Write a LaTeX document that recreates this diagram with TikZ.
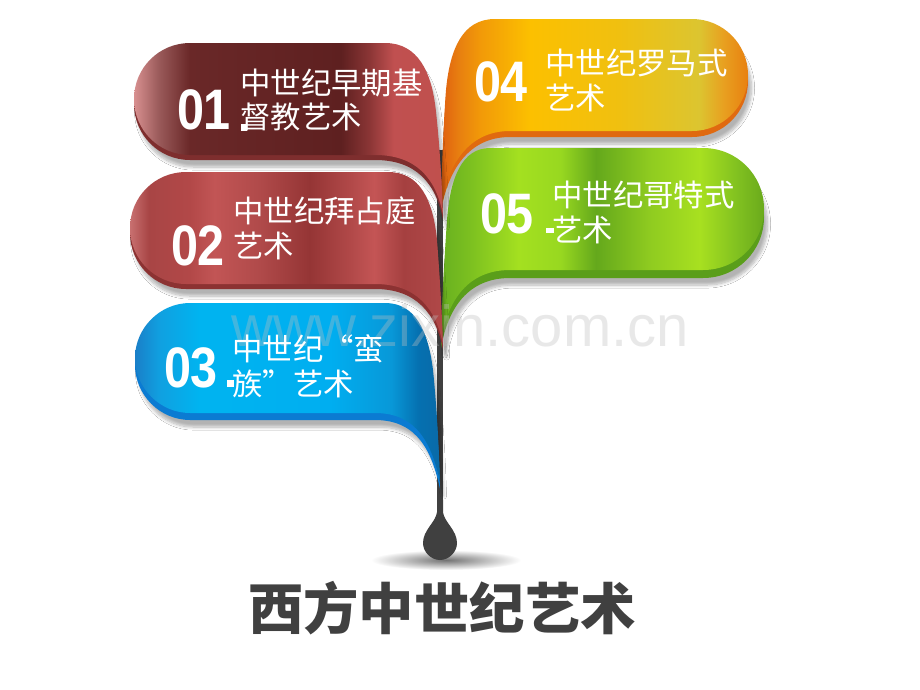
\documentclass[tikz,border=0pt]{standalone}
\usepackage{fontspec}
\usetikzlibrary{shadows.blur}
\newfontfamily\cjk{Noto Sans CJK SC}
\newfontfamily\numfont[FakeStretch=0.85]{Liberation Sans}
\newfontfamily\wmfont{Liberation Sans}
\definecolor{stemc}{HTML}{404040}
\definecolor{lipA}{HTML}{7E2E2E}
\definecolor{lipB}{HTML}{8C3232}
\definecolor{lipC}{HTML}{0B7BD2}
\definecolor{lipD}{HTML}{E06A10}
\definecolor{lipE}{HTML}{5A9E1A}
\pgfdeclarehorizontalshading{shA}{100bp}{color(0bp)=(rgb,255:red,216;green,144;blue,144); color(25bp)=(rgb,255:red,216;green,144;blue,144); color(29bp)=(rgb,255:red,154;green,90;blue,90); color(34bp)=(rgb,255:red,106;green,40;blue,40); color(58.5bp)=(rgb,255:red,94;green,32;blue,32); color(63bp)=(rgb,255:red,138;green,53;blue,53); color(67bp)=(rgb,255:red,192;green,80;blue,80); color(75bp)=(rgb,255:red,192;green,80;blue,77); color(100bp)=(rgb,255:red,192;green,80;blue,77)}
\pgfdeclarehorizontalshading{shB}{100bp}{color(0bp)=(rgb,255:red,200;green,112;blue,112); color(25bp)=(rgb,255:red,200;green,112;blue,112); color(28bp)=(rgb,255:red,168;green,69;blue,69); color(34.5bp)=(rgb,255:red,178;green,72;blue,72); color(38.5bp)=(rgb,255:red,194;green,85;blue,85); color(45.7bp)=(rgb,255:red,176;green,74;blue,74); color(53.7bp)=(rgb,255:red,149;green,53;blue,53); color(60bp)=(rgb,255:red,176;green,72;blue,72); color(64bp)=(rgb,255:red,196;green,85;blue,85); color(68.7bp)=(rgb,255:red,165;green,64;blue,64); color(75bp)=(rgb,255:red,176;green,72;blue,72); color(100bp)=(rgb,255:red,176;green,72;blue,72)}
\pgfdeclarehorizontalshading{shC}{100bp}{color(0bp)=(rgb,255:red,26;green,127;blue,200); color(25bp)=(rgb,255:red,26;green,127;blue,200); color(29bp)=(rgb,255:red,16;green,160;blue,224); color(35.5bp)=(rgb,255:red,0;green,180;blue,240); color(57bp)=(rgb,255:red,0;green,174;blue,240); color(67bp)=(rgb,255:red,8;green,152;blue,216); color(71.5bp)=(rgb,255:red,5;green,112;blue,176); color(75bp)=(rgb,255:red,10;green,106;blue,168); color(100bp)=(rgb,255:red,10;green,106;blue,168)}
\pgfdeclarehorizontalshading{shD}{100bp}{color(0bp)=(rgb,255:red,224;green,96;blue,16); color(25bp)=(rgb,255:red,224;green,96;blue,16); color(28bp)=(rgb,255:red,232;green,128;blue,16); color(31.5bp)=(rgb,255:red,242;green,154;blue,8); color(39.5bp)=(rgb,255:red,252;green,192;blue,0); color(54bp)=(rgb,255:red,240;green,192;blue,16); color(67bp)=(rgb,255:red,220;green,197;blue,48); color(71bp)=(rgb,255:red,232;green,160;blue,32); color(75bp)=(rgb,255:red,232;green,128;blue,16); color(100bp)=(rgb,255:red,232;green,128;blue,16)}
\pgfdeclarehorizontalshading{shE}{100bp}{color(0bp)=(rgb,255:red,104;green,176;blue,32); color(25bp)=(rgb,255:red,104;green,176;blue,32); color(29.5bp)=(rgb,255:red,124;green,192;blue,32); color(37bp)=(rgb,255:red,164;green,224;blue,32); color(43.5bp)=(rgb,255:red,152;green,216;blue,32); color(49bp)=(rgb,255:red,100;green,168;blue,28); color(57.5bp)=(rgb,255:red,144;green,204;blue,32); color(65bp)=(rgb,255:red,168;green,224;blue,32); color(71bp)=(rgb,255:red,128;green,192;blue,32); color(75bp)=(rgb,255:red,106;green,170;blue,28); color(100bp)=(rgb,255:red,106;green,170;blue,28)}
\def\shpA{(190,43) -- (385,43) .. controls (418,43) and (432,72) .. (436,112) .. controls (440,150) and (442,185) .. (443,215) .. controls (436,178) and (416,155) .. (375,155) -- (190,155) .. controls (159,155) and (134,130) .. (134,99) .. controls (134,68) and (159,43) .. (190,43) -- cycle}
\def\shpB{(186,172) -- (388,172) .. controls (420,172) and (433,200) .. (437,240) .. controls (440,280) and (442,315) .. (443,345) .. controls (436,308) and (416,284) .. (375,284) -- (186,284) .. controls (155,284) and (130,259) .. (130,228) .. controls (130,197) and (155,172) .. (186,172) -- cycle}
\def\shpC{(190,303) -- (385,303) .. controls (415,303) and (428,330) .. (433,370) .. controls (437,410) and (439,450) .. (440,482) .. controls (432,445) and (418,413) .. (375,413) -- (190,413) .. controls (160,413) and (135,388) .. (135,358) .. controls (135,328) and (160,303) .. (190,303) -- cycle}
\def\shpD{(692,19) -- (495,19) .. controls (463,19) and (450,48) .. (446,90) .. controls (443,130) and (442,170) .. (441,205) .. controls (448,165) and (468,131) .. (510,131) -- (692,131) .. controls (723,131) and (748,106) .. (748,75) .. controls (748,44) and (723,19) .. (692,19) -- cycle}
\def\shpE{(703,148) -- (490,148) .. controls (462,148) and (450,178) .. (447,220) .. controls (444,265) and (442,300) .. (441,340) .. controls (448,300) and (468,270) .. (510,270) -- (703,270) .. controls (737,270) and (764,243) .. (764,209) .. controls (764,175) and (737,148) .. (703,148) -- cycle}
\tikzset{
  lipshadow/.style={blur shadow={shadow xshift=2pt, shadow yshift=-4pt, shadow blur steps=8, shadow opacity=30}},
  num/.style={text=white, inner sep=0pt, font=\numfont\bfseries\fontsize{32.5}{34}\selectfont},
  lbl/.style={text=white, inner sep=0pt, anchor=west, align=left, font=\cjk\fontsize{17.3}{19.8}\selectfont},
  speck/.style={fill=white}
}
\begin{document}
\begin{tikzpicture}[x=0.02cm, y=-0.02cm]
\useasboundingbox (0,0) rectangle (920,690);
\fill[white] (0,0) rectangle (920,690);
% stem
\draw[stemc, line width=3pt] (440,150) -- (440,512);
% banners
\fill[lipD, lipshadow, shift={(0,6)}] \shpD;
\shade[shading=shD] \shpD;
\fill[lipE, lipshadow, shift={(0,8)}] \shpE;
\shade[shading=shE] \shpE;
\fill[lipA, lipshadow, shift={(0,5)}] \shpA;
\shade[shading=shA] \shpA;
\fill[lipB, lipshadow, shift={(0,5)}] \shpB;
\shade[shading=shB] \shpB;
\fill[lipC, lipshadow, shift={(0,7)}] \shpC;
\shade[shading=shC] \shpC;
% drop shadow and teardrop
\shade[inner color=black!55, outer color=white] (446,560) ellipse [x radius=75, y radius=10];
\fill[stemc] (437,500) -- (437,512) .. controls (436,522) and (423,530) .. (423,543) .. controls (423,552) and (431,560) .. (440,560) .. controls (449,560) and (457,552) .. (457,543) .. controls (457,530) and (444,522) .. (443,512) -- (443,500) -- cycle;
% watermark
\node[text=black!25, opacity=0.35, inner sep=0pt, font=\wmfont\fontsize{33}{36}\selectfont] (wm) at (460,326) {www.zixin.com.cn};
% numbers
\node[num] (n1) at (204,110) {01};
\node[num] (n2) at (198,246) {02};
\node[num] (n3) at (191,368) {03};
\node[num] (n4) at (501,82) {04};
\node[num] (n5) at (507,214) {05};
% labels
\node[lbl] (t1) at (240,100) {中世纪早期基\\督教艺术};
\node[lbl] (t2) at (233,228.5) {中世纪拜占庭\\艺术};
\node[lbl] (t3) at (232,366) {中世纪“蛮\\族”艺术};
\node[lbl] (t4) at (545,80.5) {中世纪罗马式\\艺术};
\node[lbl] (t5) at (552,212.5) {中世纪哥特式\\艺术};
% small specks
\fill[speck] (241,124) rectangle (247,131);
\fill[speck] (227,380) rectangle (234,387);
\fill[speck] (546,228) rectangle (554,233);
% title
\node[text=stemc, inner sep=0pt, font=\cjk\bfseries\fontsize{31.5}{36}\selectfont] (title) at (442,608) {西方中世纪艺术};
\end{tikzpicture}
\end{document}
